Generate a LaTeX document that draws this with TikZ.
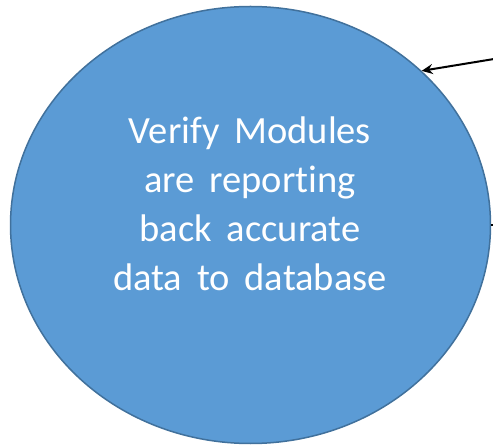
\documentclass[tikz,border=0pt]{standalone}
\usepackage{fontspec}
\setmainfont[Ligatures=NoCommon, WordSpace=1.7]{Carlito}
\usepackage{tikz}
\usetikzlibrary{positioning,shapes.geometric,arrows.meta}
\definecolor{bubblefill}{HTML}{5B9BD5}
\definecolor{bubbleline}{HTML}{41719C}
\tikzset{%
  every bubble/.style={
    ellipse,
    draw=bubbleline,
    fill=bubblefill,
    line width=1.5pt,
    inner sep=0pt,
    minimum width=480pt,
    minimum height=437pt
  },
  bubble text/.style={
    text=white,
    align=center,
    font=\fontsize{38.5}{49}\selectfont
  },
}

\begin{document}
\begin{tikzpicture}[> = {Stealth[length=11pt,width=10pt]}, x=1pt, y=-1pt]
\useasboundingbox (0,0) rectangle (493,446);
\node[every bubble] (verify) at (250.5,225){};
\node[bubble text] (verify_text) at (250,204) {Verify Modules\\are reporting\\back accurate\\data to database};
\coordinate (feed_in) at (494,59);
\coordinate (feed_out) at (494,225);
\draw[line width=2pt, ->] (feed_in) -- (verify.42.4);
\draw[line width=1.5pt] (verify.east) -- (feed_out);
\end{tikzpicture}
\end{document}
